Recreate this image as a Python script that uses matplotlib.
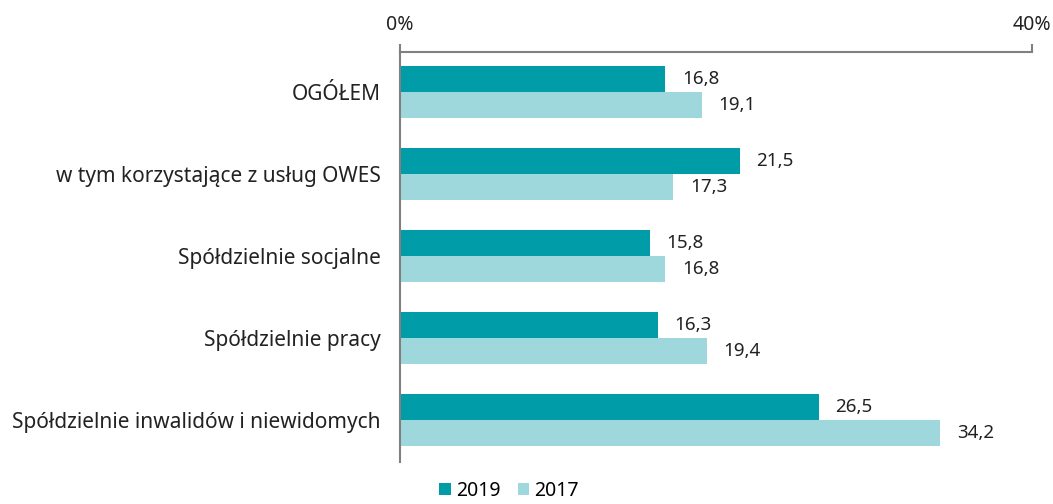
import matplotlib.pyplot as plt
import numpy as np

plt.rcParams['font.family'] = ['Noto Sans', 'DejaVu Sans']

kategorie = ['OGÓŁEM', 'w tym korzystające z usług OWES', 'Spółdzielnie socjalne',
             'Spółdzielnie pracy', 'Spółdzielnie inwalidów i niewidomych']
r2019 = [16.8, 21.5, 15.8, 16.3, 26.5]
r2017 = [19.1, 17.3, 16.8, 19.4, 34.2]

c2019 = '#009ca7'
c2017 = '#9ed8dc'
szary = '#808080'

fig = plt.figure(figsize=(10.53, 5.04), dpi=100)
ax = fig.add_axes([400 / 1053, 42 / 504, 632 / 1053, 410 / 504])

y = np.arange(len(kategorie))
h = 0.32
b1 = ax.barh(y - h / 2, r2019, height=h, color=c2019, label='2019')
b2 = ax.barh(y + h / 2, r2017, height=h, color=c2017, label='2017')

for bars, vals in [(b1, r2019), (b2, r2017)]:
    for b, v in zip(bars, vals):
        ax.annotate(f'{v:.1f}'.replace('.', ','),
                    (b.get_width(), b.get_y() + b.get_height() / 2),
                    xytext=(12, 0), textcoords='offset points',
                    ha='left', va='center', fontsize=13.5, color='#222222')

ax.set_xlim(0, 40)
ax.set_ylim(len(kategorie) - 0.49, -0.49)
ax.set_yticks(y)
ax.set_yticklabels(kategorie, fontsize=15, color='#222222')
ax.set_xticks([0, 40])
ax.set_xticklabels(['0%', '40%'], fontsize=14, color='#222222')
ax.xaxis.tick_top()
ax.tick_params(axis='x', direction='out', length=6, width=1.5, color=szary, pad=6)
ax.tick_params(axis='y', length=0, pad=14)

for s in ['right', 'bottom']:
    ax.spines[s].set_visible(False)
for s in ['top', 'left']:
    ax.spines[s].set_color(szary)
    ax.spines[s].set_linewidth(1.5)

fig.legend(handles=[b1, b2], loc='lower center', bbox_to_anchor=(509 / 1053, -0.028),
           ncol=2, frameon=False, fontsize=14, handlelength=0.6, handleheight=0.6,
           handletextpad=0.25, columnspacing=0.9)

fig.savefig('out.png', dpi=100)
